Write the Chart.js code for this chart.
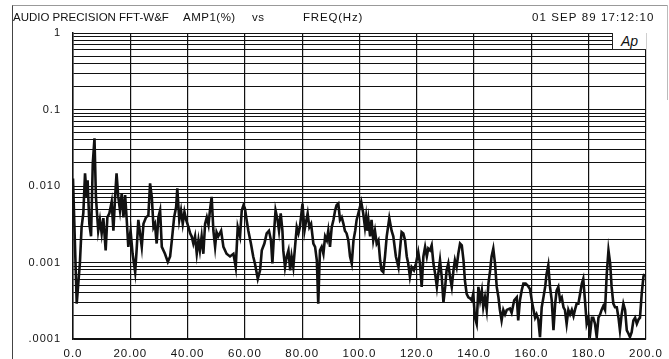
<!DOCTYPE html>
<html>
<head>
<meta charset="utf-8">
<script src="https://cdn.jsdelivr.net/npm/chart.js@4/dist/chart.umd.min.js"></script>
<style>
  body { margin: 0; background: #fff; }
  #wrap { position: relative; width: 669px; height: 359px; overflow: hidden; }
  #frame { position: absolute; left: 12px; top: 5px; width: 655px; height: 360px;
           border-left: 1px solid #444; border-top: 1px solid #999; }
  #frameRight { position: absolute; left: 667px; top: 5px; width: 1px; height: 95px; background: #bbb; }
  .lbl { position: absolute; font-family: "Liberation Sans", Arial, sans-serif; font-size: 11.5px;
         color: #111; white-space: pre; line-height: 1; }
  #logo { position: absolute; left: 612px; top: 33px; width: 33px; height: 16px;
          border-left: 1px solid #222; border-bottom: 1px solid #222; background: #fff;
          font-family: "Liberation Sans", Arial, sans-serif; font-style: italic; font-size: 14px;
          line-height: 16px; text-align: center; color: #111; }
  canvas { position: absolute; left: 0; top: 0; }
</style>
</head>
<body>
<div id="wrap">
  <div id="frame"></div>
  <div id="frameRight"></div>
  <canvas id="fftChart" width="669" height="359"></canvas>
  <span class="lbl" style="left:13px;top:12px">AUDIO PRECISION FFT-W&amp;F</span>
  <span class="lbl" style="left:183px;top:12px;letter-spacing:0.5px">AMP1(%)</span>
  <span class="lbl" style="left:252px;top:12px;letter-spacing:0.5px">vs</span>
  <span class="lbl" style="left:303px;top:12px;letter-spacing:0.8px">FREQ(Hz)</span>
  <span class="lbl" style="left:532px;top:12px;letter-spacing:1.1px">01 SEP 89 17:12:10</span>
  <div id="logo">Ap</div>
</div>
<script>
// Frequency (Hz) of each trace point
const freqHz = [
  0, 1.3, 2.4, 3.0, 3.6, 4.2, 4.8, 5.1, 5.7, 6.3, 6.9, 7.5, 8.0, 8.8, 9.4, 10.0,
  10.6, 11.4, 12.0, 12.7, 13.5, 14.1, 14.7, 15.2, 15.8, 16.4, 17.0, 17.6, 18.2, 18.7, 19.3, 20.1,
  20.8, 21.7, 22.2, 22.8, 23.4, 24.0, 24.6, 25.5, 26.3, 26.9, 27.5, 28.1, 28.6, 29.2, 29.8, 30.4,
  31.0, 32.1, 33.1, 33.9, 34.5, 35.3, 36.0, 36.4, 37.1, 37.7, 38.3, 38.9, 39.5, 40.3, 40.9, 41.4,
  42.0, 42.6, 43.2, 43.8, 44.3, 44.9, 45.5, 46.1, 46.7, 47.3, 47.8, 48.4, 49.0, 49.6,
  50.1, 50.7, 51.7, 52.5, 53.6, 54.8, 56.0, 56.8, 57.5, 58.3, 58.9, 59.5, 60.0, 60.6, 61.2, 62.1,
  62.9, 63.5, 64.5, 65.3, 65.9, 66.8, 67.6, 68.4, 69.1, 69.6, 70.3, 70.7, 71.4, 71.9, 72.5, 73.1,
  73.4, 74.0, 74.6, 75.2, 75.8, 76.3, 76.9, 77.5, 78.1, 78.7, 79.2, 80.1, 80.8, 81.2, 81.9, 82.5,
  83.1, 83.9, 84.5, 85.1, 85.6, 86.2, 86.8, 87.4, 88.0, 88.6, 89.1, 89.7, 90.3, 90.9, 91.5, 92.0,
  92.6, 93.2, 93.8, 94.4, 94.9, 95.5, 96.1, 96.7, 97.3, 97.9, 98.5, 99.0, 99.6,
  100.6, 101.3, 101.9, 102.3, 102.7, 103.1, 103.7, 104.2, 104.8, 105.4, 106.0, 106.6, 107.2, 107.7,
  108.3, 108.9, 109.5, 110.4, 111.2, 111.8, 112.7, 113.6, 114.1, 114.7, 115.3, 115.9, 116.5, 117.0,
  117.6, 118.2, 119.0, 119.7, 120.5, 121.1, 121.7, 122.3, 122.9, 123.5, 124.0, 124.6, 125.2, 125.8,
  126.4, 127.0, 127.5, 128.1, 128.7, 129.3, 129.9, 130.4, 131.0, 131.6, 132.2, 132.8, 133.3, 133.9,
  134.5, 135.1, 135.7, 136.3, 136.8, 137.4, 138.0, 138.6, 139.2, 139.7, 140.3, 140.9, 141.5, 142.1,
  142.7, 143.2, 143.8, 144.4, 145.0, 145.6, 146.1, 146.7, 147.3, 147.9, 148.5, 149.0, 149.6, 150.2,
  150.8, 151.4,
  152.5, 153.1, 154.0, 154.9, 155.4, 156.0, 156.6, 157.2, 158.0, 158.7, 159.5, 160.3, 161.3, 161.8,
  162.4, 163.0, 163.6, 164.2, 164.8, 165.3, 165.9, 166.5, 167.1, 167.7, 168.3, 168.8, 169.4, 170.0,
  170.6, 171.2, 171.7, 172.3, 172.9, 173.5, 174.1, 174.7, 175.2, 175.8, 176.4, 177.0, 177.6, 178.1,
  178.7, 179.3, 179.9, 180.5, 181.1, 181.6, 182.2, 182.8, 183.4, 184.0, 184.5, 185.1, 185.7, 186.3,
  186.9, 187.5, 188.0, 188.6, 189.2, 189.8, 190.4, 190.9, 191.5, 192.1, 192.7, 193.3, 193.9, 194.4,
  195.0, 195.6, 196.2, 196.8, 197.4, 197.9, 198.5, 199.1, 199.4
];

// AMP1 (%)
const amp1Pct = [
  0.0125, 0.00029, 0.00097, 0.0029, 0.0044, 0.0146, 0.0072, 0.0119, 0.0032, 0.0022, 0.0197, 0.042, 0.0072, 0.0026, 0.0036, 0.0024,
  0.0038, 0.00144, 0.0039, 0.0044, 0.0062, 0.0026, 0.0072, 0.0146, 0.0072, 0.0048, 0.008, 0.0039, 0.0076, 0.0039, 0.0016, 0.0026,
  0.0013, 0.00075, 0.00144, 0.0036, 0.0024, 0.0016, 0.0032, 0.0039, 0.0041, 0.0108, 0.0072, 0.0029, 0.0032, 0.00177, 0.0039, 0.0048,
  0.0016, 0.0013, 0.00102, 0.0012, 0.00195, 0.0039, 0.0053, 0.0093, 0.0036, 0.0048, 0.0032, 0.0046, 0.0036, 0.0029, 0.0024, 0.0022,
  0.00177, 0.0022, 0.0013, 0.00195, 0.00144, 0.0022, 0.0013, 0.0032, 0.0039, 0.0031, 0.0048, 0.0072, 0.0026, 0.0016,
  0.0025, 0.0022, 0.0026, 0.0016, 0.0013, 0.0012, 0.0013, 0.00087, 0.0029, 0.0022, 0.0048, 0.0056, 0.0051, 0.0036, 0.0026, 0.00177,
  0.0012, 0.00097, 0.00061, 0.00079, 0.00144, 0.00177, 0.0024, 0.0026, 0.00195, 0.00097, 0.0029, 0.0048, 0.0036, 0.0026, 0.0044, 0.0026,
  0.00144, 0.00087, 0.0012, 0.00144, 0.00079, 0.0012, 0.00087, 0.0016, 0.0029, 0.0024, 0.0029, 0.0059, 0.0026, 0.0032, 0.0044, 0.0029,
  0.0032, 0.00177, 0.0016, 0.00107, 0.00029, 0.00144, 0.0016, 0.0013, 0.0022, 0.00195, 0.0026, 0.0016, 0.0029, 0.0036, 0.0048, 0.0056,
  0.0059, 0.0036, 0.0039, 0.0032, 0.0026, 0.0024, 0.00195, 0.0012, 0.00097, 0.00195, 0.0026, 0.0036, 0.0044,
  0.0062, 0.0044, 0.0029, 0.0039, 0.0026, 0.0036, 0.0022, 0.0036, 0.00195, 0.0026, 0.00177, 0.00195, 0.00107, 0.00079,
  0.00075, 0.0012, 0.0022, 0.0038, 0.0026, 0.0022, 0.0012, 0.00087, 0.00144, 0.0025, 0.0024, 0.00195, 0.0012, 0.00097,
  0.00065, 0.00087, 0.00079, 0.00097, 0.00137, 0.00097, 0.00048, 0.0012, 0.0016, 0.0012, 0.00152, 0.00144, 0.00168, 0.00097,
  0.00071, 0.00048, 0.00071, 0.00107, 0.00065, 0.0003, 0.00048, 0.00079, 0.00097, 0.00065, 0.00048, 0.00079, 0.00107, 0.00087,
  0.00131, 0.00177, 0.00168, 0.00107, 0.00058, 0.00039, 0.00035, 0.00034, 0.00032, 0.00039, 0.00019, 0.000158, 0.00048, 0.00032,
  0.00043, 0.00026, 0.00035, 0.00024, 0.00053, 0.00079, 0.0012, 0.00152, 0.00097, 0.00048, 0.00035, 0.00024, 0.000175, 0.00024,
  0.00021, 0.00024,
  0.00025, 0.00022, 0.00032, 0.00035, 0.000175, 0.00032, 0.00043, 0.00053, 0.00053, 0.0005, 0.00045, 0.00029, 0.00019, 0.00021,
  0.00018, 0.000106, 0.00026, 0.00035, 0.00048, 0.00071, 0.00092, 0.00048, 0.00032, 0.00013, 0.00029, 0.00043, 0.00048, 0.00032,
  0.00035, 0.00026, 0.00024, 0.000158, 0.00024, 0.00021, 0.00024, 0.0002, 0.00024, 0.00029, 0.00029, 0.00039, 0.00053, 0.00061,
  0.00032, 0.000158, 0.00019, 0.000117, 0.00019, 0.00019, 0.000158, 0.000106, 0.00019, 0.00021, 0.00024, 0.00027, 0.00024, 0.00071,
  0.00144, 0.00097, 0.00048, 0.00029, 0.00026, 0.00026, 0.00019, 0.00013, 0.00021, 0.00029, 0.00024, 0.00013, 0.000117, 0.000106,
  0.000123, 0.000175, 0.00019, 0.000158, 0.00018, 0.00019, 0.00039, 0.00065, 0.00071
];

// Axis labels as printed on the plot
const xTickValues = [0, 20, 40, 60, 80, 100, 120, 140, 160, 180, 200];
const xTickLabels = ['0.0', '20.00', '40.00', '60.00', '80.00', '100.0', '120.0', '140.0', '160.0', '180.0', '200.0'];
const yTickValues = [1, 0.1, 0.01, 0.001, 0.0001];
const yTickLabels = ['1', '0.1', '0.010', '0.001', '.0001'];

const points = freqHz.map((f, i) => ({ x: f, y: amp1Pct[i] }));

Chart.defaults.font.family = '"Liberation Sans", Arial, sans-serif';
Chart.defaults.font.size = 11;
Chart.defaults.color = '#111';

// plotter-style wide lettering on the tick labels
const wideLetters = {
  id: 'wideLetters',
  beforeDraw(chart) {
    chart.ctx.letterSpacing = '1px';
  }
};

const ctx = document.getElementById('fftChart').getContext('2d');
new Chart(ctx, {
  type: 'line',
  data: {
    datasets: [{
      label: 'AMP1(%)',
      data: points,
      borderColor: '#111',
      borderWidth: 2.6,
      pointRadius: 0,
      tension: 0,
      fill: false
    }]
  },
  options: {
    responsive: false,
    animation: false,
    layout: { padding: { left: 0, right: 23, top: 33, bottom: 0 } },
    plugins: { legend: { display: false }, tooltip: { enabled: false } },
    scales: {
      x: {
        type: 'linear',
        min: 0,
        max: 200,
        afterBuildTicks: (scale) => {
          scale.ticks = xTickValues.map(v => ({ value: v }));
        },
        afterFit: (scale) => { scale.height = 20; },
        ticks: {
          autoSkip: false,
          maxRotation: 0,
          padding: 8,
          font: { size: 11.5 },
          callback: (value) => {
            const i = xTickValues.indexOf(value);
            return i >= 0 ? xTickLabels[i] : '';
          }
        },
        grid: { color: '#111', lineWidth: 1.2, drawTicks: false },
        border: { color: '#111', width: 1.5 }
      },
      y: {
        type: 'logarithmic',
        min: 0.0001,
        max: 1,
        afterBuildTicks: (scale) => {
          const t = [];
          for (let e = -4; e < 0; e++) {
            for (let m = 1; m <= 9; m++) t.push({ value: m * Math.pow(10, e) });
          }
          t.push({ value: 1 });
          scale.ticks = t;
        },
        afterFit: (scale) => { scale.width = 73; },
        ticks: {
          autoSkip: false,
          padding: 12,
          font: { size: 11 },
          callback: (value) => {
            const i = yTickValues.findIndex(v => Math.abs(v - value) / v < 1e-6);
            return i >= 0 ? yTickLabels[i] : '';
          }
        },
        grid: { color: '#111', lineWidth: 1, drawTicks: false },
        border: { color: '#111', width: 1.5 }
      }
    }
  },
  plugins: [wideLetters]
});
</script>
</body>
</html>
